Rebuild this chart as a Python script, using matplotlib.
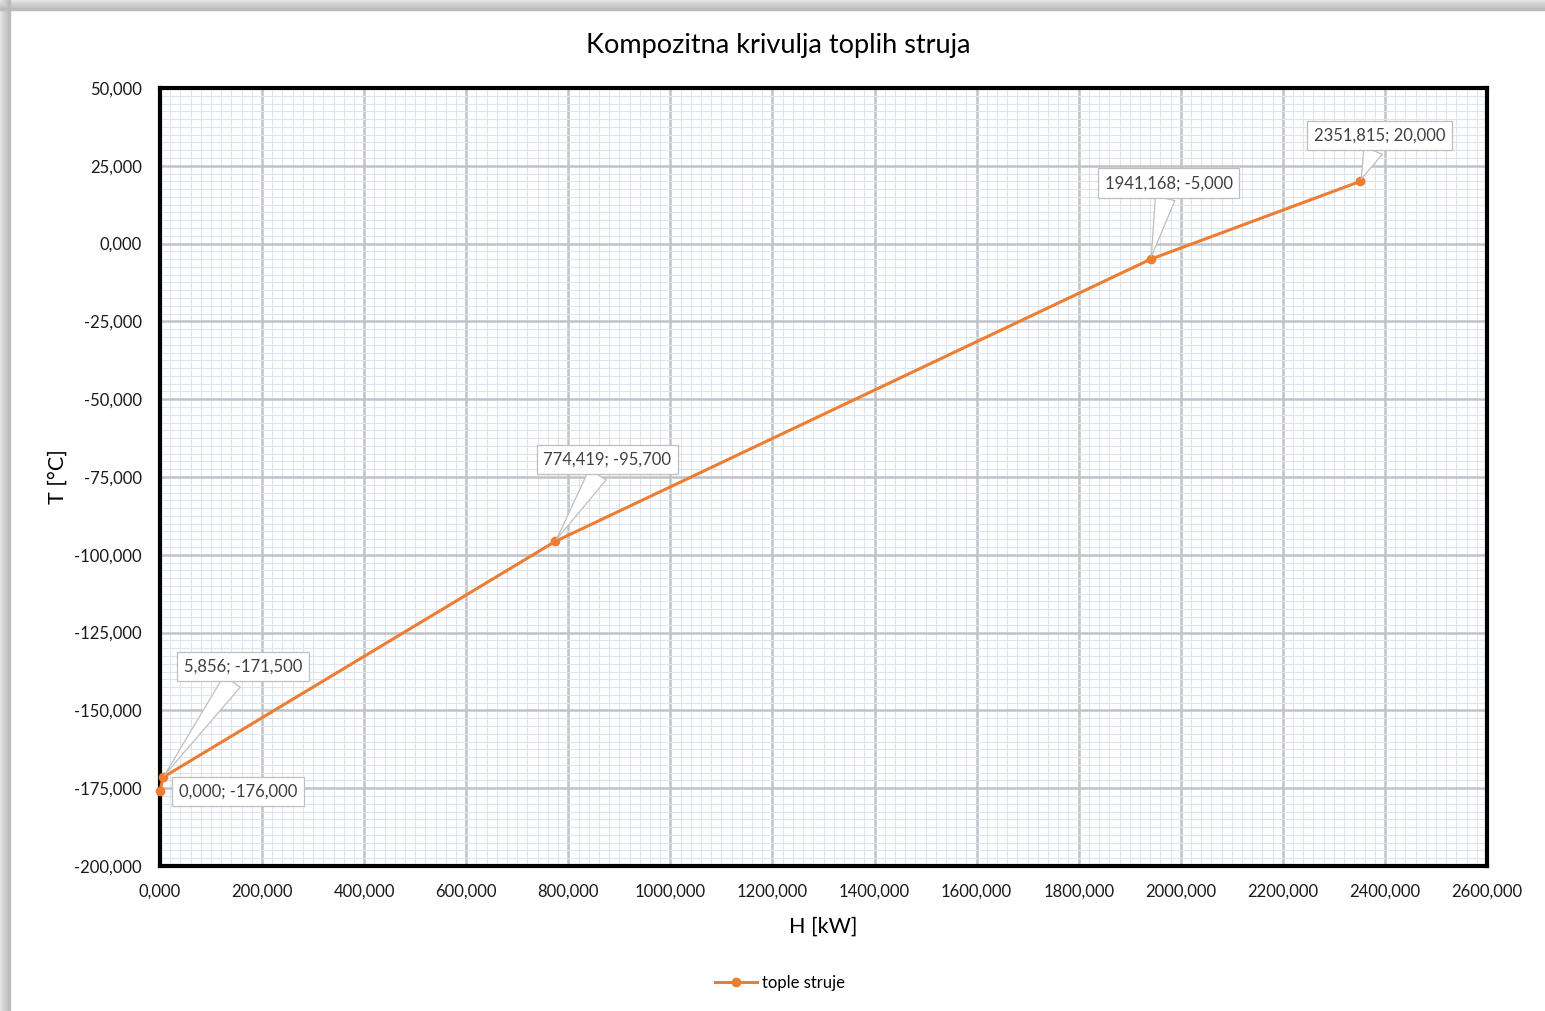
import matplotlib.pyplot as plt
import matplotlib.ticker as mticker
from matplotlib.patches import Rectangle

# podaci - kompozitna krivulja toplih struja
H = [0.000, 5.856, 774.419, 1941.168, 2351.815]
T = [-176.000, -171.500, -95.700, -5.000, 20.000]
oznake = ["0,000; -176,000", "5,856; -171,500", "774,419; -95,700",
          "1941,168; -5,000", "2351,815; 20,000"]
# pomak oznaka od tocke (px)
pomaci = [(78, 0), (80, 111), (52, 82), (18, 76), (19, 46)]

narancasta = "#ED7D31"
plt.rcParams['font.family'] = ['Lato', 'DejaVu Sans']

fig = plt.figure(figsize=(15.45, 10.11), dpi=100)
W, Hpx = 1545, 1011

# siva sjena okvira gore i lijevo
sive = ["#e4e4e4", "#d8d8d8", "#cfcfcf", "#c6c6c6", "#bcbcbc"]
for i, c in enumerate(sive):
    fig.patches.append(Rectangle((0, 1 - (i + 1) * 2 / Hpx), 1, 2 / Hpx,
                                 transform=fig.transFigure, color=c, zorder=0))
    fig.patches.append(Rectangle((i * 2 / W, 0), 2 / W, 1,
                                 transform=fig.transFigure, color=c, zorder=0))

ax = fig.add_axes([160 / W, 1 - 866 / Hpx, 1327 / W, 778 / Hpx])

ax.plot(H, T, color=narancasta, lw=2.2, marker="o", ms=6, label="tople struje",
        zorder=5, clip_on=False)

ax.set_xlim(0, 2600)
ax.set_ylim(-200, 50)
ax.xaxis.set_major_locator(mticker.MultipleLocator(200))
ax.xaxis.set_minor_locator(mticker.MultipleLocator(20))
ax.yaxis.set_major_locator(mticker.MultipleLocator(25))
ax.yaxis.set_minor_locator(mticker.MultipleLocator(2.5))

fmt = mticker.FuncFormatter(lambda v, p: f"{v:.3f}".replace(".", ","))
ax.xaxis.set_major_formatter(fmt)
ax.yaxis.set_major_formatter(fmt)

ax.grid(which="major", color="#bfc3c8", lw=1.8)
ax.grid(which="minor", color="#dce6f0", lw=0.8)
ax.set_axisbelow(True)
ax.tick_params(which="both", length=0, labelsize=12, colors="#1a1a1a")
ax.tick_params(axis="x", pad=13)
ax.tick_params(axis="y", pad=13)
for s in ax.spines.values():
    s.set_linewidth(3)
    s.set_color("black")

ax.set_xlabel("H [kW]", fontsize=15.5, labelpad=12)
ax.set_ylabel("T [°C]", fontsize=15.5, labelpad=5)
fig.text(778 / W, 1 - 45 / Hpx, "Kompozitna krivulja toplih struja",
         fontsize=19.5, ha="center", va="center")

for x, y, t, (dx, dy) in zip(H, T, oznake, pomaci):
    arrow = None
    if dy != 0:
        arrow = dict(arrowstyle="wedge,tail_width=1.2,shrink_factor=0.5",
                     fc="white", ec="#bfbfbf", lw=0.9, shrinkA=0, shrinkB=2)
    ax.annotate(t, (x, y), xytext=(dx, dy), textcoords="offset pixels",
                ha="center", va="center", fontsize=12, color="#404040",
                bbox=dict(boxstyle="square,pad=0.4", fc="white", ec="#bfbfbf", lw=0.9),
                arrowprops=arrow, zorder=6)

fig.legend(loc="center", bbox_to_anchor=(780 / W, 1 - 983 / Hpx), frameon=False,
           fontsize=12, handlelength=2.5, handletextpad=0.3)

fig.savefig("out.png", dpi=100)
